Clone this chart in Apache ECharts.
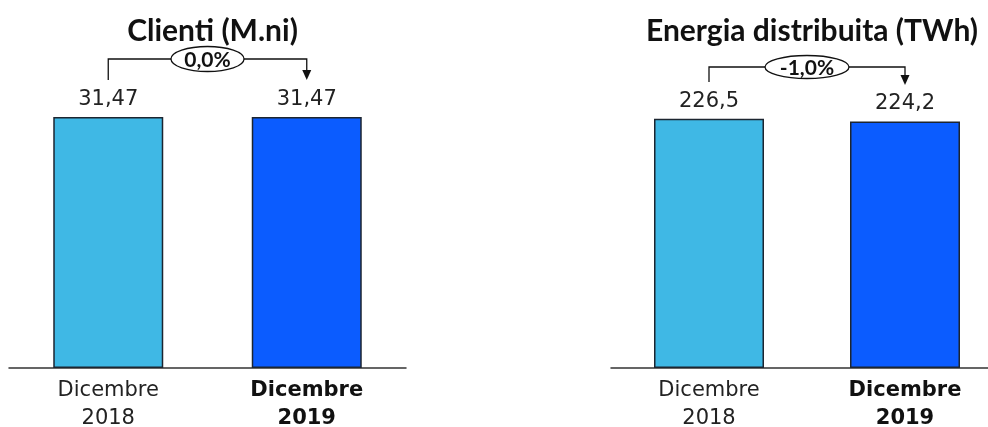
<!DOCTYPE html>
<html><head><meta charset="utf-8">
<script src="https://cdn.jsdelivr.net/npm/echarts@6/dist/echarts.min.js"></script>
<style>html,body{margin:0;padding:0;background:#fff}#c{width:988px;height:427px}</style>
</head><body><div id="c"></div>
<script>
const categories = ['Dicembre\n2018', 'Dicembre\n2019'];
const titles = ['Clienti (M.ni)', 'Energia distribuita (TWh)'];
const clienti = [31.47, 31.47];
const energia = [226.5, 224.2];
const valueLabels = [['31,47', '31,47'], ['226,5', '224,2']];
const deltaLabels = ['0,0%', '-1,0%'];
const axisMax = [40, 290];

const colors = ['#3fb8e5', '#0b5cff'];
const grids = [
  {left: 9, width: 397, top: 49, bottom: 59, outerBoundsMode: 'none'},
  {left: 611, width: 392, top: 49, bottom: 59, outerBoundsMode: 'none'}
];
const seriesData = [clienti, energia];

const option = {
  animation: false,
  title: titles.map((t, i) => ({
    text: t,
    left: grids[i].left + grids[i].width / 2,
    textAlign: 'center',
    top: 11,
    textStyle: {fontFamily: 'Lato', fontWeight: 'bold', fontSize: 30, color: '#111'}
  })),
  grid: grids,
  xAxis: grids.map((g, i) => ({
    type: 'category', gridIndex: i, data: categories,
    axisLine: {lineStyle: {color: '#333', width: 1.5}},
    axisTick: {show: false},
    axisLabel: {
      margin: 9, lineHeight: 28, fontFamily: 'DejaVu Sans', fontSize: 21, color: '#222',
      formatter: (v, idx) => idx === 1 ? '{b|' + v.replace('\n', '}\n{b|') + '}' : v,
      rich: {b: {fontFamily: 'DejaVu Sans', fontWeight: 'bold', fontSize: 21, color: '#111', lineHeight: 28}}
    }
  })),
  yAxis: grids.map((g, i) => ({
    type: 'value', gridIndex: i, min: 0, max: axisMax[i], show: false
  })),
  series: seriesData.map((d, i) => ({
    type: 'bar', xAxisIndex: i, yAxisIndex: i, barWidth: 110,
    data: d.map((v, j) => ({value: v, itemStyle: {color: colors[j]}})),
    itemStyle: {borderColor: '#1c2530', borderWidth: 1.5},
    label: {
      show: true, position: 'top', distance: 7,
      fontFamily: 'DejaVu Sans', fontSize: 21, color: '#222',
      formatter: p => valueLabels[i][p.dataIndex]
    }
  }))
};

const chart = echarts.init(document.getElementById('c'));
chart.setOption(option);

const graphics = [];
seriesData.forEach((d, i) => {
  const p0 = chart.convertToPixel({gridIndex: i}, [0, d[0]]);
  const p1 = chart.convertToPixel({gridIndex: i}, [1, d[1]]);
  const yLine = i === 0 ? 59 : 67;
  const yStart = i === 0 ? 80 : 82;
  const yEnd = i === 0 ? 80 : 85;
  const cx = (p0[0] + p1[0]) / 2;
  const rx = i === 0 ? 36.5 : 42, ry = i === 0 ? 12.5 : 11.5;
  const ls = {stroke: '#111', lineWidth: 1.3, fill: null};
  graphics.push({type: 'polyline', shape: {points: [[p0[0], yStart], [p0[0], yLine], [cx - rx, yLine]]}, style: ls});
  graphics.push({type: 'polyline', shape: {points: [[cx + rx, yLine], [p1[0], yLine], [p1[0], yEnd - 8]]}, style: ls});
  graphics.push({type: 'polygon', shape: {points: [[p1[0] - 4.5, yEnd - 10], [p1[0] + 4.5, yEnd - 10], [p1[0], yEnd]]}, style: {fill: '#111'}});
  graphics.push({type: 'ellipse', shape: {cx: cx, cy: yLine, rx: rx, ry: ry}, style: {fill: '#fff', stroke: '#111', lineWidth: 1.3}});
  graphics.push({type: 'text', x: cx, y: yLine + 1, style: {text: deltaLabels[i], x: 0, y: 0, align: 'center', verticalAlign: 'middle', fontFamily: 'Lato', fontWeight: 'bold', fontSize: 21, fill: '#111'}});
});
chart.setOption({graphic: graphics});
</script></body></html>
